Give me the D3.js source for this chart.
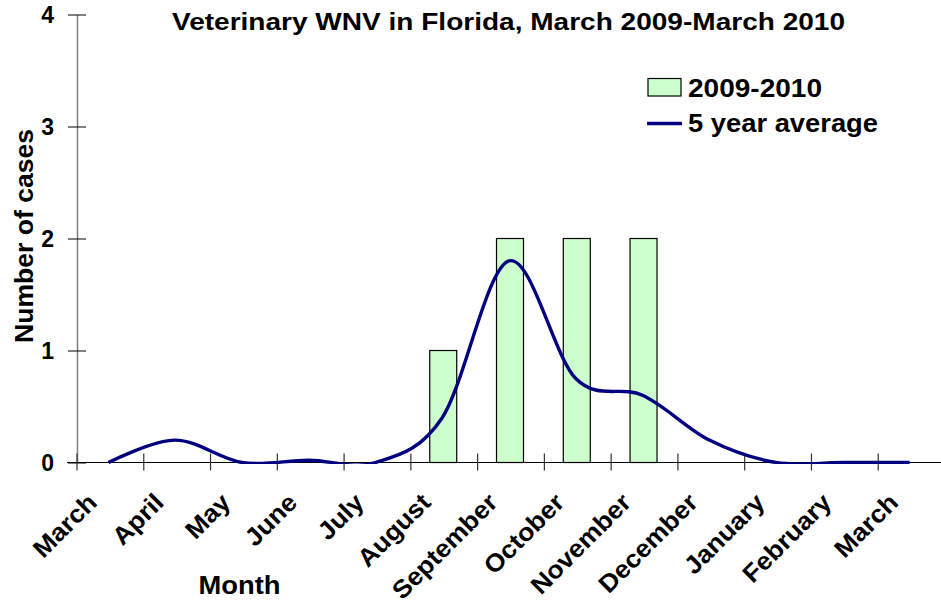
<!DOCTYPE html>
<html>
<head>
<meta charset="utf-8">
<script src="https://cdn.jsdelivr.net/npm/d3@7"></script>
<style>
  body { margin: 0; background: #fff; }
  svg text { font-family: "Liberation Sans", Arial, sans-serif; font-weight: bold; fill: #000; }
</style>
</head>
<body>
<div id="chart"></div>
<script>
// Veterinary WNV in Florida, March 2009 - March 2010
const months = ['March', 'April', 'May', 'June', 'July', 'August', 'September',
  'October', 'November', 'December', 'January', 'February', 'March'];
const cases2009 = [0, 0, 0, 0, 0, 1, 2, 2, 2, 0, 0, 0, 0];
const fiveYearAvg = [0, 0.2, 0, 0.02, 0, 0.4, 1.8, 0.75, 0.6, 0.2, 0, 0, 0];
const yTicks = [0, 1, 2, 3, 4];

const width = 941;
const height = 607;
const plot = { left: 77, right: 945, top: 14.5, bottom: 462.5 };

// the source picture renders its text a little wider than Liberation Sans
function widen(sel, factor) {
  sel.each(function () {
    const len = this.getComputedTextLength();
    d3.select(this).attr('textLength', len * factor).attr('lengthAdjust', 'spacingAndGlyphs');
  });
}

const svg = d3.select('#chart')
  .append('svg')
  .attr('width', width)
  .attr('height', height);

// series are clipped to the plot area, like the spreadsheet chart does
svg.append('clipPath')
  .attr('id', 'plot-clip')
  .append('rect')
  .attr('x', plot.left)
  .attr('y', plot.top - 5)
  .attr('width', plot.right - plot.left)
  .attr('height', plot.bottom - plot.top + 6.5);

const x = d3.scaleBand()
  .domain(d3.range(months.length))
  .range([plot.left, plot.right]);

const y = d3.scaleLinear()
  .domain([0, 4])
  .range([plot.bottom, plot.top]);

const barWidth = x.bandwidth() * 0.404;
const barData = cases2009.map((v, i) => ({ v, i })).filter((d) => d.v > 0);

svg.append('g')
  .attr('class', 'bars')
  .selectAll('rect')
  .data(barData)
  .join('rect')
  .attr('x', (d) => x(d.i) + x.bandwidth() / 2 - barWidth / 2 - 1)
  .attr('y', (d) => y(d.v))
  .attr('width', barWidth)
  .attr('height', (d) => y(0) - y(d.v))
  .attr('fill', '#ccffcc')
  .attr('stroke', '#000')
  .attr('stroke-width', 1.2);

// y axis
const yAxis = svg.append('g')
  .attr('transform', `translate(${plot.left},0)`)
  .call(d3.axisLeft(y).tickValues(yTicks).tickSizeInner(9).tickSizeOuter(0)
    .tickPadding(14).tickFormat(d3.format('d')));
yAxis.select('.domain').attr('stroke', '#808080').attr('stroke-width', 1.5);
yAxis.selectAll('.tick line').attr('x2', 9).attr('x1', -9).attr('stroke', '#000');
yAxis.selectAll('.tick text')
  .style('font-size', '23px')
  .attr('dy', '0.36em');

// x axis
const xAxis = svg.append('g')
  .attr('transform', `translate(0,${plot.bottom})`);
xAxis.append('line')
  .attr('x1', plot.left - 10)
  .attr('x2', plot.right)
  .attr('stroke', '#000')
  .attr('stroke-width', 1.2);
xAxis.selectAll('line.tick')
  .data(d3.range(months.length))
  .join('line')
  .attr('class', 'tick')
  .attr('x1', (d) => x(d))
  .attr('x2', (d) => x(d))
  .attr('y1', -9)
  .attr('y2', 8)
  .attr('stroke', '#333')
  .attr('stroke-width', 1.2);
xAxis.selectAll('text.xlab')
  .data(months)
  .join('text')
  .attr('class', 'xlab')
  .attr('text-anchor', 'end')
  .attr('transform', (d, i) => `translate(${x(i) + x.bandwidth() / 2 - 12},${41.5}) rotate(-45)`)
  .style('font-size', '25px')
  .text((d) => d)
  .call(widen, 1.06);

// 5 year average line
const line = d3.line()
  .x((d, i) => x(i) + x.bandwidth() / 2 - 2)
  .y((d) => y(d))
  .curve(d3.curveCardinal.tension(0));

svg.append('path')
  .datum(fiveYearAvg)
  .attr('clip-path', 'url(#plot-clip)')
  .attr('fill', 'none')
  .attr('stroke', '#000080')
  .attr('stroke-width', 3.4)
  .attr('d', line);

// title
svg.append('text')
  .attr('x', 172)
  .attr('y', 29.5)
  .attr('textLength', 673)
  .attr('lengthAdjust', 'spacingAndGlyphs')
  .style('font-size', '23.5px')
  .text('Veterinary WNV in Florida, March 2009-March 2010');

// axis titles
svg.append('text')
  .attr('x', 198.5)
  .attr('y', 593.5)
  .attr('textLength', 82)
  .attr('lengthAdjust', 'spacingAndGlyphs')
  .style('font-size', '25.5px')
  .text('Month');

svg.append('text')
  .attr('transform', 'translate(33,236) rotate(-90)')
  .attr('text-anchor', 'middle')
  .attr('textLength', 214)
  .attr('lengthAdjust', 'spacingAndGlyphs')
  .style('font-size', '25.5px')
  .text('Number of cases');

// legend
const legend = svg.append('g');
legend.append('rect')
  .attr('x', 648)
  .attr('y', 78.5)
  .attr('width', 33)
  .attr('height', 17.5)
  .attr('fill', '#ccffcc')
  .attr('stroke', '#000')
  .attr('stroke-width', 1.2);
legend.append('text')
  .attr('x', 688)
  .attr('y', 96.5)
  .attr('textLength', 134)
  .attr('lengthAdjust', 'spacingAndGlyphs')
  .style('font-size', '25.5px')
  .text('2009-2010');
legend.append('line')
  .attr('x1', 647)
  .attr('x2', 682)
  .attr('y1', 123.5)
  .attr('y2', 123.5)
  .attr('stroke', '#000080')
  .attr('stroke-width', 3.4);
legend.append('text')
  .attr('x', 688)
  .attr('y', 131.5)
  .attr('textLength', 190)
  .attr('lengthAdjust', 'spacingAndGlyphs')
  .style('font-size', '25.5px')
  .text('5 year average');
</script>
</body>
</html>
